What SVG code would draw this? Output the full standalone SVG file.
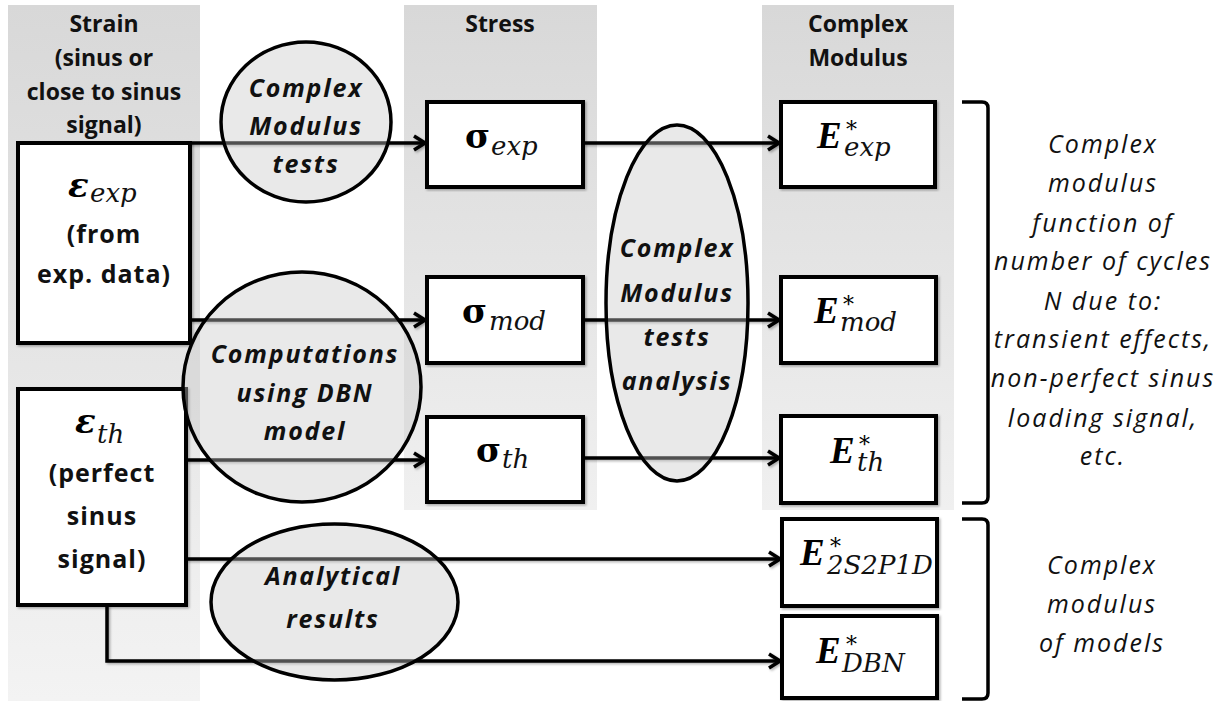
<svg xmlns="http://www.w3.org/2000/svg" width="1231" height="701" viewBox="0 0 1231 701">
<defs>
<linearGradient id="colA" x1="0" y1="0" x2="0" y2="1">
<stop offset="0" stop-color="#d8d8d8"/><stop offset="1" stop-color="#f3f3f3"/>
</linearGradient>
<linearGradient id="colB" x1="0" y1="0" x2="0" y2="1">
<stop offset="0" stop-color="#d8d8d8"/><stop offset="1" stop-color="#f0f0f0"/>
</linearGradient>
<marker id="arr" markerUnits="userSpaceOnUse" markerWidth="16" markerHeight="20" refX="13" refY="9" orient="auto">
<path d="M2,2 L13,9 L2,16" fill="none" stroke="#000" stroke-width="3.5" stroke-linejoin="miter"/>
</marker>
<filter id="sh" x="-5%" y="-5%" width="110%" height="110%">
<feDropShadow dx="1.5" dy="1.5" stdDeviation="1" flood-color="#000" flood-opacity="0.3"/>
</filter>
</defs>
<style>
.hdr{font-family:"Open Sans","Liberation Sans",sans-serif;font-weight:bold;font-size:23px;text-anchor:middle;fill:#111}
.lbl{font-family:"Open Sans","Liberation Sans",sans-serif;font-weight:bold;font-size:25px;letter-spacing:1px;text-anchor:middle;fill:#111}
.ell{font-family:"Open Sans","Liberation Sans",sans-serif;font-weight:bold;font-style:italic;font-size:25px;letter-spacing:1.8px;text-anchor:middle;fill:#111}
.note{font-family:"Open Sans","Liberation Sans",sans-serif;font-style:italic;font-size:25px;letter-spacing:2px;text-anchor:middle;fill:#111}
.box{fill:#fff;stroke:#000;stroke-width:4}
.el{fill:#c8c8c8;fill-opacity:0.4;stroke:#000;stroke-width:3.5}
.conn line,.conn path{stroke:#000;stroke-width:3.5;fill:none}
.arrow{marker-end:url(#arr)}
.mb{font-family:"DejaVu Serif","Liberation Serif",serif;font-weight:bold;font-style:normal;font-size:34px;fill:#000}
.mbi{font-family:"DejaVu Serif","Liberation Serif",serif;font-weight:bold;font-style:italic;font-size:34px;fill:#000}
.me{font-family:"Liberation Serif","DejaVu Serif",serif;font-weight:bold;font-style:italic;font-size:37px;fill:#000}
.ms{font-family:"DejaVu Serif","Liberation Serif",serif;font-weight:normal;font-style:italic;font-size:26px;fill:#111}
.mst{font-family:"DejaVu Serif","Liberation Serif",serif;font-weight:normal;font-style:normal;font-size:22px;fill:#000}
.brk{fill:none;stroke:#000;stroke-width:3.5}
</style>

<g id="columns">
<rect x="8" y="5" width="192" height="696" fill="url(#colA)"/>
<rect x="404" y="5" width="193" height="505" fill="url(#colB)"/>
<rect x="762" y="5" width="192" height="505" fill="url(#colB)"/>
<text class="hdr" x="104" y="32">Strain</text>
<text class="hdr" x="104" y="66">(sinus or</text>
<text class="hdr" x="104" y="100">close to sinus</text>
<text class="hdr" x="104" y="133">signal)</text>
<text class="hdr" x="500" y="32">Stress</text>
<text class="hdr" x="858" y="32">Complex</text>
<text class="hdr" x="858" y="66">Modulus</text>
</g>

<g id="connectors" class="conn" filter="url(#sh)">
<line class="arrow" x1="188" y1="143" x2="425" y2="143"/>
<line class="arrow" x1="190" y1="320" x2="425" y2="320"/>
<line class="arrow" x1="186" y1="460" x2="425" y2="460"/>
<line class="arrow" x1="186" y1="559" x2="780" y2="559"/>
<path class="arrow" d="M107,605 L107,661 L780,661"/>
<line class="arrow" x1="583" y1="143" x2="779" y2="143"/>
<line class="arrow" x1="583" y1="320" x2="779" y2="320"/>
<line class="arrow" x1="583" y1="458" x2="779" y2="458"/>
</g>

<g id="eps-exp">
<rect class="box" x="18" y="143" width="172" height="200" filter="url(#sh)"/>
<text class="ms"><tspan class="mbi" x="68" y="197">ε</tspan><tspan x="90" y="202">exp</tspan></text>
<text class="lbl" x="104" y="243">(from</text>
<text class="lbl" x="104" y="283">exp. data)</text>
</g>

<g id="eps-th">
<rect class="box" x="18" y="389" width="168" height="216" filter="url(#sh)"/>
<text class="ms"><tspan class="mbi" x="75" y="433">ε</tspan><tspan x="97" y="443">th</tspan></text>
<text class="lbl" x="102" y="482">(perfect</text>
<text class="lbl" x="102" y="525">sinus</text>
<text class="lbl" x="102" y="568">signal)</text>
</g>

<g id="sigma-exp">
<rect class="box" x="427" y="102" width="156" height="85" filter="url(#sh)"/>
<text class="ms"><tspan class="mb" x="465" y="148">σ</tspan><tspan x="491" y="155">exp</tspan></text>
</g>
<g id="sigma-mod">
<rect class="box" x="427" y="277" width="156" height="86" filter="url(#sh)"/>
<text class="ms"><tspan class="mb" x="462" y="323">σ</tspan><tspan x="489" y="330">mod</tspan></text>
</g>
<g id="sigma-th">
<rect class="box" x="427" y="417" width="156" height="85" filter="url(#sh)"/>
<text class="ms"><tspan class="mb" x="476" y="462">σ</tspan><tspan x="502" y="468">th</tspan></text>
</g>

<g id="E-exp">
<rect class="box" x="781" y="102" width="154" height="85" filter="url(#sh)"/>
<text class="ms"><tspan class="me" x="817" y="148">E</tspan><tspan class="mst" x="846" y="137">*</tspan><tspan x="844" y="156">exp</tspan></text>
</g>
<g id="E-mod">
<rect class="box" x="781" y="277" width="155" height="86" filter="url(#sh)"/>
<text class="ms"><tspan class="me" x="814" y="323">E</tspan><tspan class="mst" x="843" y="312">*</tspan><tspan x="840" y="331">mod</tspan></text>
</g>
<g id="E-th">
<rect class="box" x="781" y="416" width="155" height="87" filter="url(#sh)"/>
<text class="ms"><tspan class="me" x="830" y="463">E</tspan><tspan class="mst" x="859" y="452">*</tspan><tspan x="857" y="471">th</tspan></text>
</g>
<g id="E-2S2P1D">
<rect class="box" x="782" y="519" width="155" height="87" filter="url(#sh)"/>
<text class="ms"><tspan class="me" x="800" y="565">E</tspan><tspan class="mst" x="830" y="554">*</tspan><tspan x="827" y="574">2S2P1D</tspan></text>
</g>
<g id="E-DBN">
<rect class="box" x="782" y="616" width="155" height="82" filter="url(#sh)"/>
<text class="ms"><tspan class="me" x="816" y="663">E</tspan><tspan class="mst" x="846" y="652">*</tspan><tspan x="842" y="672">DBN</tspan></text>
</g>

<g id="ell-tests">
<ellipse class="el" cx="306" cy="122" rx="85" ry="80"/>
<text class="ell" x="306" y="97">Complex</text>
<text class="ell" x="306" y="135">Modulus</text>
<text class="ell" x="306" y="173">tests</text>
</g>
<g id="ell-dbn">
<ellipse class="el" cx="302" cy="387" rx="119" ry="115"/>
<text class="ell" x="305" y="363">Computations</text>
<text class="ell" x="305" y="402">using DBN</text>
<text class="ell" x="305" y="440">model</text>
</g>
<g id="ell-analysis">
<ellipse class="el" cx="677" cy="303" rx="71" ry="178"/>
<text class="ell" x="677" y="257">Complex</text>
<text class="ell" x="677" y="302">Modulus</text>
<text class="ell" x="677" y="346">tests</text>
<text class="ell" x="677" y="390">analysis</text>
</g>
<g id="ell-analytical">
<ellipse class="el" cx="334.5" cy="602" rx="123.5" ry="78"/>
<text class="ell" x="333" y="585">Analytical</text>
<text class="ell" x="333" y="628">results</text>
</g>

<g id="bracket-1">
<path class="brk" d="M962,102 L982,102 Q988,102 988,108 L988,497 Q988,503 982,503 L962,503"/>
<text class="note" x="1103" y="153">Complex</text>
<text class="note" x="1103" y="192">modulus</text>
<text class="note" x="1103" y="232">function of</text>
<text class="note" x="1103" y="270">number of cycles</text>
<text class="note" x="1103" y="310">N due to:</text>
<text class="note" x="1103" y="348">transient effects,</text>
<text class="note" x="1103" y="387">non-perfect sinus</text>
<text class="note" x="1103" y="427">loading signal,</text>
<text class="note" x="1103" y="465">etc.</text>
</g>
<g id="bracket-2">
<path class="brk" d="M962,519 L982,519 Q988,519 988,525 L988,693 Q988,699 982,699 L962,699"/>
<text class="note" x="1102" y="574">Complex</text>
<text class="note" x="1102" y="613">modulus</text>
<text class="note" x="1102" y="652">of models</text>
</g>
</svg>
